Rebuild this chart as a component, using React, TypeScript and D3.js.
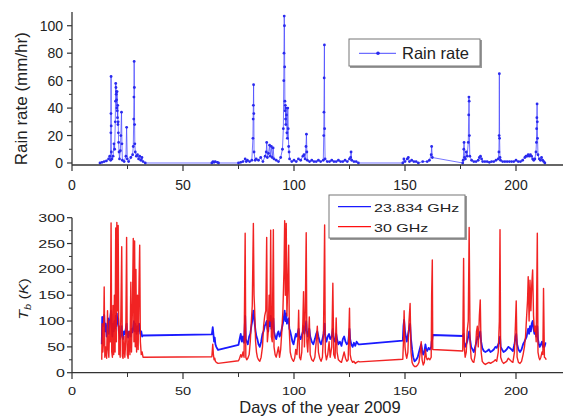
import React from 'react';
import * as d3 from 'd3';

const xTicks = [0, 50, 100, 150, 200];
const xMinor = [25, 75, 125, 175];
const rainTicks = [0, 20, 40, 60, 80, 100];
const rainMinor = [10, 30, 50, 70, 90];
const tbTicks = [0, 50, 100, 150, 200, 250, 300];
const tbMinor = [25, 75, 125, 175, 225, 275];

// [day, rain rate mm/hr]
const rainData: [number, number][] = [
  [12.6, 0], [13.5, 0.5], [14.5, 1], [15.5, 1.5], [16.5, 3], [17.0, 5], [17.4, 2], [17.5, 22], [17.55, 36], [17.6, 63], [17.65, 27], [17.7, 8],
  [18.0, 3], [18.5, 5], [18.9, 14], [19.2, 10], [19.5, 30], [19.6, 45], [19.7, 58], [19.8, 55], [19.9, 50], [20.0, 52], [20.1, 46], [20.2, 40],
  [20.3, 52], [20.4, 38], [20.5, 33], [20.6, 42], [20.7, 28], [20.8, 30], [20.9, 22], [21.0, 15], [21.2, 8], [21.4, 3], [21.8, 9], [22.0, 20],
  [22.3, 37], [22.5, 14], [22.7, 2], [23.5, 1], [24.3, 5], [24.6, 26], [24.9, 3], [25.5, 1], [26.5, 4], [27.3, 6], [27.6, 12], [27.8, 32],
  [27.9, 48], [28.0, 74], [28.1, 55], [28.2, 28], [28.3, 14], [28.5, 8], [29.0, 5], [29.5, 6], [30.0, 3], [30.5, 5], [31.0, 2], [31.5, 4], [32.0, 1],
  [33, 0], [63, 0], [63.5, 1], [64, 0.5], [64.5, 1], [65.5, 0.5], [66, 0],
  [75, 0], [76, 0.5], [77, 1], [78, 3], [78.5, 1], [79, 2], [80, 1], [81, 2], [81.5, 18], [81.6, 32], [81.7, 42], [81.8, 57], [81.9, 36], [82.0, 8],
  [82.5, 2], [83, 3], [84, 2], [85, 4], [86, 1], [87, 5], [87.5, 8], [87.7, 15], [88, 4], [88.5, 7], [89, 13], [89.3, 5], [89.8, 12], [90.2, 4],
  [90.6, 11], [91, 3], [92, 2], [93, 1], [94, 4], [94.8, 10], [95.2, 25], [95.4, 60], [95.5, 80], [95.6, 107], [95.7, 100], [95.8, 70], [95.9, 45],
  [96.0, 38], [96.1, 42], [96.2, 32], [96.3, 28], [96.4, 40], [96.6, 35], [96.8, 22], [97.0, 18], [97.2, 40], [97.4, 25], [97.6, 12], [97.8, 8],
  [98, 3], [99, 1], [100, 2], [101, 1], [102, 3], [103, 2], [104, 5], [104.5, 6], [105, 3], [105.4, 12], [105.6, 21], [105.8, 8], [106, 2],
  [107, 1], [108, 2], [109, 1], [110, 1], [111, 2], [112, 1], [113.2, 2], [113.4, 20], [113.5, 37], [113.6, 62], [113.7, 86], [113.8, 25], [114, 3],
  [115, 1], [116, 1], [117, 2], [118, 1], [119, 1], [120, 2], [121, 1], [122, 1], [123, 2], [124, 1], [125, 3], [125.5, 4], [125.7, 8], [126, 2],
  [127, 1], [128, 1], [129, 0],
  [149, 0], [149.5, 3], [150, 1], [151, 3], [151.5, 4], [152, 1], [153, 2], [154, 1], [155, 1], [156, 0], [158, 1], [160, 1], [161, 2], [161.8, 6],
  [162, 12], [162.3, 4], [176, 0], [176.2, 2], [176.5, 10], [176.6, 15], [176.8, 4], [177.2, 3], [177.6, 8], [178, 5], [178.5, 15], [178.7, 35],
  [178.8, 48], [178.9, 45], [179.0, 20], [179.2, 5], [180, 2], [181, 1], [182, 1], [183, 2], [183.5, 4], [184, 5], [184.5, 3], [185, 1], [186, 1],
  [187, 1], [188, 0.5], [189, 1], [190, 1], [191, 2], [192, 3], [192.3, 8], [192.4, 20], [192.5, 65], [192.6, 18], [192.8, 4], [193, 2], [194, 1],
  [195, 1], [196, 1], [197, 1], [198, 1], [199, 1], [200, 2], [201, 1], [202, 1], [203, 2], [204, 4], [204.5, 5], [205, 5], [205.5, 6], [206, 5],
  [206.5, 6], [207, 5], [207.5, 3], [208, 2], [208.5, 3], [209, 8], [209.2, 15], [209.3, 25], [209.4, 33], [209.5, 43], [209.6, 30], [209.7, 18],
  [209.9, 6], [210.5, 3], [211, 2], [211.5, 4], [212, 2], [212.5, 1], [213, 0],
];

// [day, Tb 23.834 GHz, Tb 30 GHz]
const tbData: [number, number, number][] = [
  [13.4, 55, 25], [13.6, 108, 95], [13.9, 90, 40], [14.2, 100, 60], [14.5, 112, 166], [14.8, 80, 30], [15.2, 95, 50], [15.6, 70, 28],
  [16.0, 88, 120], [16.3, 105, 45], [16.6, 75, 30], [17.0, 95, 100], [17.3, 110, 60], [17.6, 120, 290], [17.9, 90, 40], [18.2, 70, 30],
  [18.5, 95, 130], [18.8, 80, 35], [19.1, 100, 150], [19.4, 85, 40], [19.7, 110, 280], [20.0, 90, 60], [20.2, 115, 291], [20.5, 95, 120],
  [20.8, 105, 285], [21.1, 80, 35], [21.4, 75, 90], [21.7, 65, 30], [22.0, 80, 110], [22.4, 90, 244], [22.7, 70, 32], [23.0, 65, 28],
  [23.4, 80, 70], [23.8, 75, 30], [24.2, 85, 60], [24.6, 95, 262], [24.9, 75, 35], [25.3, 68, 28], [25.7, 80, 80], [26.1, 72, 35],
  [26.5, 70, 175], [26.8, 85, 40], [27.2, 78, 120], [27.6, 90, 260], [27.9, 100, 60], [28.2, 80, 255], [28.5, 95, 50], [28.8, 85, 200],
  [29.1, 75, 40], [29.5, 90, 150], [29.8, 80, 45], [30.2, 95, 175], [30.5, 85, 247], [30.8, 75, 60], [31.2, 80, 35], [31.6, 70, 40],
  [32.0, 72, 30], [63.0, 74, 31], [63.4, 88, 55], [63.7, 75, 35], [64.0, 60, 25], [64.3, 68, 28], [64.6, 55, 22], [65.0, 50, 20],
  [65.8, 44, 18], [75.0, 54, 23], [75.5, 65, 28], [76.0, 75, 35], [76.5, 60, 30], [77.0, 70, 40], [77.5, 58, 30], [78.0, 110, 270],
  [78.3, 65, 30], [78.7, 60, 25], [79.2, 55, 28], [79.8, 70, 35], [80.3, 75, 60], [80.8, 90, 100], [81.2, 100, 130], [81.7, 120, 289],
  [82.0, 110, 150], [82.3, 95, 120], [82.7, 80, 60], [83.1, 70, 40], [83.5, 65, 30], [84.0, 55, 25], [84.6, 50, 22], [85.2, 60, 30],
  [85.8, 75, 50], [86.3, 80, 90], [86.8, 90, 110], [87.3, 95, 120], [87.7, 100, 262], [88.0, 85, 60], [88.4, 80, 80], [88.8, 100, 150],
  [89.2, 90, 100], [89.5, 110, 276], [89.8, 85, 70], [90.2, 90, 60], [90.7, 105, 277], [91.0, 80, 50], [91.5, 70, 35], [92.0, 65, 30],
  [92.5, 75, 40], [93.0, 80, 50], [93.5, 70, 30], [94.0, 75, 45], [94.5, 85, 80], [95.0, 95, 120], [95.5, 110, 200], [95.8, 120, 294],
  [96.1, 100, 150], [96.5, 115, 289], [96.8, 95, 110], [97.2, 100, 170], [97.6, 105, 247], [97.9, 85, 80], [98.3, 80, 40], [98.8, 70, 30],
  [99.3, 60, 25], [99.8, 55, 22], [100.3, 65, 28], [100.8, 75, 45], [101.3, 70, 35], [101.8, 80, 70], [102.1, 85, 121], [102.5, 70, 30],
  [103.0, 65, 25], [103.5, 72, 40], [104.0, 80, 100], [104.3, 90, 157], [104.7, 75, 50], [105.1, 85, 120], [105.5, 100, 271], [105.8, 80, 60],
  [106.2, 70, 40], [106.9, 85, 108], [107.3, 70, 35], [108.0, 60, 25], [108.7, 55, 22], [109.4, 65, 30], [110.0, 75, 60], [110.5, 80, 90],
  [111.0, 70, 40], [111.6, 60, 28], [112.2, 55, 22], [112.8, 65, 30], [113.3, 75, 80], [113.8, 95, 286], [114.1, 70, 40], [114.6, 60, 25],
  [115.2, 70, 35], [115.8, 75, 60], [116.3, 65, 30], [117.0, 70, 50], [117.5, 85, 173], [117.9, 65, 35], [118.5, 60, 28], [119.0, 75, 106],
  [119.4, 65, 40], [120.0, 55, 25], [120.7, 60, 22], [121.4, 52, 20], [122.0, 65, 30], [122.6, 70, 40], [123.2, 60, 28], [123.8, 55, 22],
  [124.4, 58, 25], [125.0, 85, 125], [125.3, 65, 35], [125.8, 55, 25], [126.4, 50, 20], [127.0, 58, 22], [127.6, 52, 18], [128.2, 60, 20],
  [129.0, 55, 22], [129.6, 55, 21], [149.0, 62, 26], [149.3, 90, 60], [149.6, 102, 120], [150.0, 80, 50], [150.4, 70, 35], [150.8, 60, 28],
  [151.3, 72, 40], [151.8, 85, 100], [152.3, 95, 134], [152.7, 65, 40], [153.2, 45, 20], [153.7, 30, 15], [154.3, 22, 12], [155.0, 25, 12],
  [155.7, 30, 15], [156.3, 40, 20], [156.9, 50, 40], [157.3, 55, 60], [157.7, 45, 25], [158.2, 35, 15], [158.7, 40, 20], [159.2, 55, 45],
  [159.6, 45, 30], [160.0, 42, 25], [160.6, 48, 28], [161.2, 45, 25], [161.8, 50, 30], [162.0, 60, 150], [162.3, 65, 218], [162.5, 73, 45],
  [176.0, 71, 42], [176.4, 75, 221], [176.7, 60, 50], [177.1, 50, 30], [177.6, 55, 40], [178.0, 60, 80], [178.5, 70, 100], [178.9, 80, 281],
  [179.3, 65, 60], [179.8, 50, 28], [180.4, 45, 22], [181.0, 40, 20], [181.6, 50, 35], [182.2, 60, 80], [182.6, 70, 90], [183.0, 65, 50],
  [183.5, 75, 110], [183.9, 80, 141], [184.3, 60, 40], [184.8, 48, 22], [185.5, 42, 18], [186.2, 40, 16], [187.0, 42, 18], [187.8, 45, 20],
  [188.5, 40, 18], [189.2, 42, 20], [190.0, 45, 22], [190.7, 50, 25], [191.3, 48, 22], [192.0, 55, 40], [192.5, 60, 100], [192.8, 70, 277],
  [193.1, 50, 30], [193.7, 45, 22], [194.4, 40, 18], [195.1, 42, 20], [195.8, 45, 22], [196.5, 50, 28], [197.2, 48, 25], [197.9, 45, 22],
  [198.6, 42, 20], [199.3, 55, 40], [199.8, 70, 100], [200.1, 75, 139], [200.5, 55, 30], [201.1, 45, 20], [201.8, 40, 18], [202.5, 45, 22],
  [203.2, 55, 35], [203.8, 60, 50], [204.3, 65, 70], [204.8, 70, 110], [205.2, 80, 140], [205.5, 85, 186], [205.9, 75, 100], [206.3, 90, 179],
  [206.7, 80, 120], [207.1, 95, 170], [207.5, 100, 199], [207.9, 85, 110], [208.3, 75, 80], [208.7, 80, 90], [209.1, 70, 60], [209.6, 90, 270],
  [209.9, 65, 40], [210.3, 55, 30], [210.7, 50, 25], [211.2, 55, 30], [211.7, 60, 40], [212.1, 50, 35], [212.4, 55, 163], [212.8, 50, 30],
  [213.3, 57, 28], [213.6, 57, 25],
];

const FONT = "'Liberation Sans', Arial, sans-serif";

export default function App() {
  const x = d3.scaleLinear().domain([0, 220]).range([72, 560.4]);
  const yR = d3.scaleLinear().domain([-1.46, 110]).range([165, 12]);
  const yT = d3.scaleLinear().domain([0, 300]).range([372.7, 217.7]);

  const rainLine = d3.line<[number, number]>().x(d => x(d[0])).y(d => yR(d[1]))(rainData) || '';
  const line23 = d3.line<[number, number, number]>().x(d => x(d[0])).y(d => yT(d[1]))(tbData) || '';
  const line30 = d3.line<[number, number, number]>().x(d => x(d[0])).y(d => yT(d[2]))(tbData) || '';

  const axisColor = '#333';
  const x0 = x(0);
  const xEnd = 563;

  const squash = (tx: number, ty: number, s = 0.72) => `translate(${tx},${ty}) scale(1,${s})`;

  return (
    <svg width={566} height={417} style={{ position: 'absolute', left: 0, top: 0, background: '#fff' }} fontFamily={FONT}>
      <rect width={566} height={417} fill="#fff" />
      {/* ---------- Top panel ---------- */}
      <path d={rainLine} fill="none" stroke="#4a4aff" strokeWidth={0.9} strokeOpacity={0.85} />
      {rainData.map((d, i) => (
        <circle key={i} cx={x(d[0])} cy={yR(d[1])} r={1.4} fill="#2a2aee" />
      ))}
      {/* axes */}
      <line x1={x0} x2={x0} y1={12} y2={165} stroke={axisColor} strokeWidth={1.3} />
      <line x1={x0} x2={xEnd} y1={165} y2={165} stroke={axisColor} strokeWidth={1.3} />
      {rainTicks.map(t => (
        <g key={t}>
          <line x1={x0 - 5} x2={x0} y1={yR(t)} y2={yR(t)} stroke={axisColor} strokeWidth={1.2} />
          <text x={x0 - 9} y={yR(t) + 5} fontSize={14} textAnchor="end" fill="#222">{t}</text>
        </g>
      ))}
      {rainMinor.map(t => (
        <line key={t} x1={x0 - 3} x2={x0} y1={yR(t)} y2={yR(t)} stroke={axisColor} strokeWidth={1} />
      ))}
      {xTicks.map(t => (
        <g key={t}>
          <line x1={x(t)} x2={x(t)} y1={165} y2={171} stroke={axisColor} strokeWidth={1.2} />
          <text x={x(t)} y={190} fontSize={14} textAnchor="middle" fill="#222">{t}</text>
        </g>
      ))}
      {xMinor.map(t => (
        <line key={t} x1={x(t)} x2={x(t)} y1={165} y2={169} stroke={axisColor} strokeWidth={1} />
      ))}
      <text transform={`translate(27,98.7) rotate(-90)`} fontSize={17} textAnchor="middle" fill="#222">Rain rate (mm/hr)</text>
      {/* top legend */}
      <rect x={350} y={40} width={132} height={28} fill="#999" />
      <rect x={349} y={39} width={131} height={27} fill="#fff" stroke="#777" strokeWidth={1} />
      <line x1={359} x2={396} y1={53.3} y2={53.3} stroke="#4a4aff" strokeWidth={1} />
      <circle cx={378} cy={53.3} r={1.8} fill="#2a2aee" />
      <text x={402} y={59.3} fontSize={16.5} fill="#222">Rain rate</text>

      {/* ---------- Bottom panel ---------- */}
      <path d={line23} fill="none" stroke="#1a1aff" strokeWidth={1.8} strokeLinejoin="round" />
      <path d={line30} fill="none" stroke="#f01010" strokeWidth={1.4} strokeOpacity={0.92} strokeLinejoin="round" />
      <line x1={x0} x2={x0} y1={217.7} y2={372.7} stroke={axisColor} strokeWidth={1.3} />
      <line x1={x0} x2={xEnd} y1={372.7} y2={372.7} stroke={axisColor} strokeWidth={1.3} />
      {tbTicks.map(t => (
        <g key={t}>
          <line x1={x0 - 5} x2={x0} y1={yT(t)} y2={yT(t)} stroke={axisColor} strokeWidth={1.2} />
          <text transform={squash(x0 - 7, yT(t) + 4)} fontSize={16} textAnchor="end" fill="#222">{t}</text>
        </g>
      ))}
      {tbMinor.map(t => (
        <line key={t} x1={x0 - 3} x2={x0} y1={yT(t)} y2={yT(t)} stroke={axisColor} strokeWidth={1} />
      ))}
      {xTicks.map(t => (
        <g key={t}>
          <line x1={x(t)} x2={x(t)} y1={372.7} y2={379} stroke={axisColor} strokeWidth={1.2} />
          <text transform={squash(x(t), 395, 0.8)} fontSize={14.5} textAnchor="middle" fill="#222">{t}</text>
        </g>
      ))}
      {xMinor.map(t => (
        <line key={t} x1={x(t)} x2={x(t)} y1={372.7} y2={377} stroke={axisColor} strokeWidth={1} />
      ))}
      <text transform={`translate(28,299) rotate(-90) scale(1,0.85)`} fontSize={16} textAnchor="middle" fill="#222">
        <tspan fontStyle="italic">T</tspan>
        <tspan fontSize={11} dy={4} fontStyle="italic">b</tspan>
        <tspan dy={-4}> (</tspan>
        <tspan fontStyle="italic">K</tspan>
        <tspan>)</tspan>
      </text>
      <text x={320} y={413} fontSize={16.5} textAnchor="middle" fill="#222">Days of the year 2009</text>
      {/* bottom legend */}
      <rect x={330} y={196} width={137} height={44} fill="#999" />
      <rect x={329} y={195} width={136} height={43} fill="#fff" stroke="#777" strokeWidth={1} />
      <line x1={338} x2={371} y1={206.7} y2={206.7} stroke="#1a1aff" strokeWidth={1.3} />
      <text transform={squash(374, 211.7)} fontSize={16} fill="#222">23.834 GHz</text>
      <line x1={338} x2={371} y1={226.7} y2={226.7} stroke="#ff1010" strokeWidth={1.3} />
      <text transform={squash(374, 231.7)} fontSize={16} fill="#222">30 GHz</text>
    </svg>
  );
}
